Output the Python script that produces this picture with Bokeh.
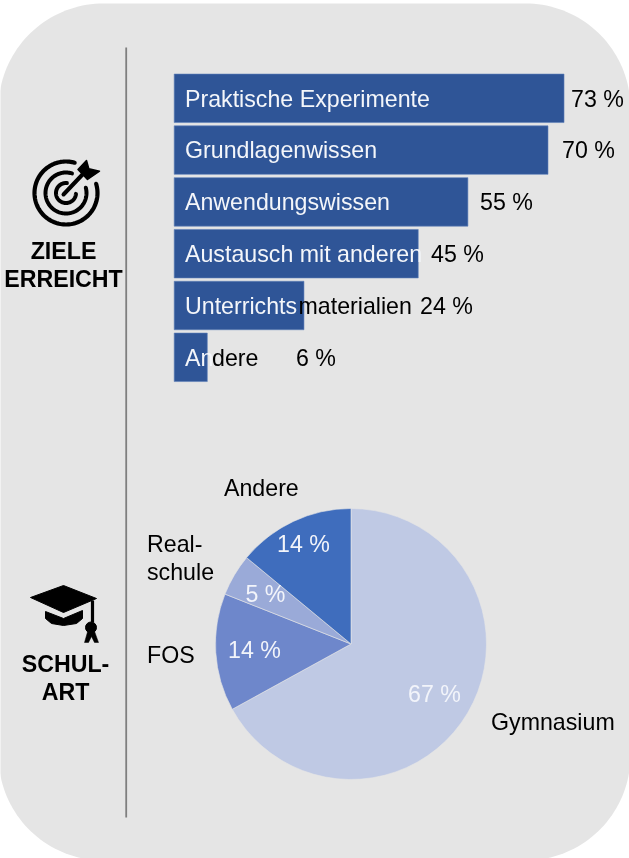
import numpy as np
from bokeh.plotting import figure
from bokeh.models import Range1d
from bokeh.core.properties import value
from bokeh.embed import file_html
from bokeh.resources import INLINE

# --- data ---
bar_labels_white = ["Praktische Experimente", "Grundlagenwissen", "Anwendungswissen",
                    "Austausch mit anderen", "Unterrichts", "An"]
bar_labels_black = ["", "", "", "", "materialien", "dere"]
bar_values = [73, 70, 55, 45.7, 24.3, 6.2]
bar_texts = ["73 %", "70 %", "55 %", "45 %", "24 %", "6 %"]
pie_names = ["Gymnasium", "FOS", "Real-\nschule", "Andere"]
pie_values = [67, 14, 5, 14]
pie_texts = ["67 %", "14 %", "5 %", "14 %"]
pie_colors = ["#BFC9E4", "#6E87CB", "#9AAAD8", "#3F6DBD"]

W, H = 629, 858
FONT = value("Liberation Sans")
PANEL = "#E5E5E5"

PX_PER_PCT, X0 = 5.34, 173.7
ROW_STEP, ROW0 = 51.8, 97.8
CX, CY, R = 350.5, 643.5, 135.5

p = figure(width=W, height=H, output_backend="svg", toolbar_location=None,
           x_range=Range1d(-X0 / PX_PER_PCT, (W - X0) / PX_PER_PCT),
           y_range=Range1d((H - ROW0) / ROW_STEP, -ROW0 / ROW_STEP),
           min_border=0, outline_line_color=None, background_fill_color="white",
           border_fill_color="white")
p.axis.visible = False
p.grid.visible = False
p.extra_x_ranges["px"] = Range1d(0, W)
p.extra_y_ranges["px"] = Range1d(H, 0)
p.extra_y_ranges["up"] = Range1d(0, H)
p.extra_x_ranges["pie"] = Range1d(-CX / R, (W - CX) / R)
p.extra_y_ranges["pie"] = Range1d((CY - H) / R, CY / R)
p.styles = {"position": "fixed", "left": "0px", "top": "0px"}

PX = dict(x_range_name="px", y_range_name="px")
UP = dict(x_range_name="px", y_range_name="up")

# rounded panel
L, T, RT, B, RAD = -2, 3, 630, 860, 105
def corner(cx, cy, a0, a1):
    th = np.radians(np.linspace(a0, a1, 40))
    return cx + RAD * np.cos(th), cy + RAD * np.sin(th)
segs = [corner(L + RAD, T + RAD, 180, 270), corner(RT - RAD, T + RAD, 270, 360),
        corner(RT - RAD, B - RAD, 0, 90), corner(L + RAD, B - RAD, 90, 180)]
p.patch(np.concatenate([s[0] for s in segs]), np.concatenate([s[1] for s in segs]),
        fill_color=PANEL, line_color=None, **PX)

# divider
p.line([125.7, 125.7], [47, 817], line_color="#7F7F7F", line_width=1.8, **PX)

# bars
rows = list(range(len(bar_values)))
p.hbar(y=rows, left=0, right=bar_values, height=48.5 / ROW_STEP,
       fill_color="#2F5597", line_color="#5E80B8", line_width=0.6)

def txt(x, y, s, color="black", size=23.2, align="left", style="normal"):
    p.text(x=[x - 0.5], y=[y], text=[s], text_color=color, text_font=FONT, text_font_size=f"{size}px",
           text_align=align, text_baseline="middle", text_font_style=style, **PX)

row_y = [98.0, 149.3, 201.6, 253.4, 305.2, 357.0]
label_x = 185
for i, w in enumerate(bar_labels_white):
    txt(label_x, row_y[i], w, "#F4F6FA")
val_x = [571, 562, 480, 431, 420, 296]
for i, t in enumerate(bar_texts):
    txt(val_x[i], row_y[i], t)
txt(298.5, row_y[4], bar_labels_black[4])
txt(212, row_y[5], bar_labels_black[5])

# pie, clockwise from top
fr = np.array(pie_values) / sum(pie_values) * 2 * np.pi
ends = np.pi / 2 - np.concatenate([[0], np.cumsum(fr)[:-1]])
starts = ends - fr
p.wedge(x=0, y=0, radius=1, start_angle=starts, end_angle=ends, fill_color=pie_colors,
        line_color=PANEL, line_width=0.6, x_range_name="pie", y_range_name="pie")

pie_lab = [(434.5, 693), (254.5, 649), (265.5, 593), (303.5, 543)]
for (x, y), t in zip(pie_lab, pie_texts):
    txt(x, y, t, "#F2F4FA", align="center")
txt(491, 721, pie_names[0])
txt(147, 654, pie_names[1])
a, b = pie_names[2].split("\n")
txt(147, 543, a)
txt(147, 571, b)
txt(224, 487, pie_names[3])

# side captions
for x, y, s in [(63.5, 250.5, "ZIELE"), (63.5, 278.5, "ERREICHT"), (65.5, 663.5, "SCHUL-"), (65.5, 691.5, "ART")]:
    txt(x, y, s, size=23.2, align="center", style="bold")

# target icon
tx, ty = 65.5, H - 192.5
for r, a0, a1, lw in [(31.5, 74, 377, 4.2), (20.5, 73, 375, 4), (10, 85, 355, 4)]:
    th = np.radians(np.linspace(a0, a1, 120))
    p.line(tx + r * np.cos(th), ty + r * np.sin(th), line_color="black", line_width=lw,
           line_cap="round", **UP)
p.line([63, 82], [H - 194, H - 174], line_color="black", line_width=4, line_cap="round", **UP)
p.patch([86, 88.3, 99, 87, 77.5], [H - 160, H - 168.3, H - 170.7, H - 179, H - 169],
        fill_color="black", line_color="black", line_width=1.5, line_join="round", **UP)

# cap icon
p.patch([30, 63, 96, 63], [H - 597, H - 585, H - 598, H - 612], fill_color="black", line_color="black", **UP)
bx = [45, 63, 82, 82, 76, 63, 51, 45]
by = [611, 618, 610, 618, 623, 625, 623, 618]
p.patch(bx, [H - v for v in by], fill_color="black", line_color="black", **UP)
p.line([92, 92], [H - 600, H - 622], line_color="black", line_width=3.2, **UP)
p.scatter([90.5], [H - 627], size=11, marker="circle", fill_color="black", line_color="black", **UP)
p.patch([88, 93, 98, 94, 91, 88, 84], [H - 628, H - 628, H - 642, H - 642, H - 636, H - 642, H - 642],
        fill_color="black", line_color="black", line_width=0.5, **UP)

open("out.html", "w").write(file_html(p, INLINE))
